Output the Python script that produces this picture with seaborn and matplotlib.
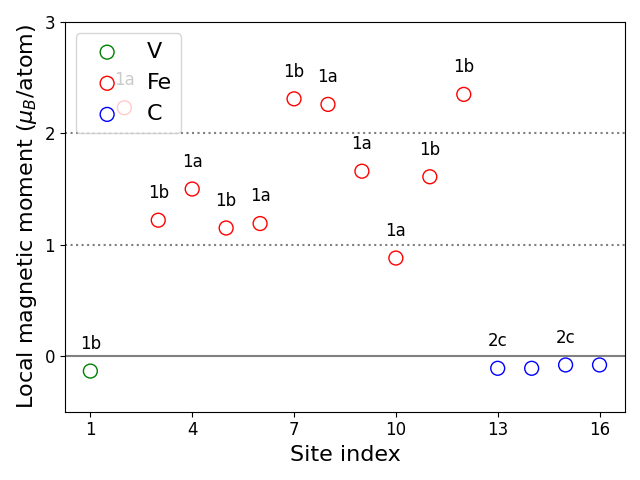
import numpy as np
import pandas as pd
import seaborn as sns
import matplotlib
matplotlib.use('Agg')
import matplotlib.pyplot as plt

# Data
SITES = list(range(1, 17))
ELEMENTS = ['V'] + ['Fe'] * 11 + ['C'] * 4
MOMENTS = [-0.135, 2.23, 1.22, 1.50, 1.15, 1.19, 2.31, 2.26,
           1.66, 0.88, 1.61, 2.35, -0.11, -0.11, -0.08, -0.08]
WYCKOFF = ['1b', '1a', '1b', '1a', '1b', '1a', '1b', '1a',
           '1a', '1a', '1b', '1b', '2c', '', '2c', '']
COLORS = {'V': 'green', 'Fe': 'red', 'C': 'blue'}

df = pd.DataFrame({'site': SITES, 'element': ELEMENTS,
                   'moment': MOMENTS, 'label': WYCKOFF})

fig, ax = plt.subplots(figsize=(6.4, 4.8), dpi=100)

for el in ['V', 'Fe', 'C']:
    sub = df[df['element'] == el]
    sns.scatterplot(data=sub, x='site', y='moment', ax=ax, s=100,
                    facecolor='none', edgecolor=COLORS[el], linewidth=1,
                    label=el)

for _, row in df.iterrows():
    if row['label']:
        ax.text(row['site'], row['moment'] + 0.2, row['label'],
                ha='center', fontsize=12)

ax.axhline(0, color='gray', lw=1.5)
ax.axhline(1, color='gray', ls=':', lw=1.5)
ax.axhline(2, color='gray', ls=':', lw=1.5)

ax.set_ylim(-0.5, 3)
ax.set_yticks([0, 1, 2, 3])
ax.set_xticks([1, 4, 7, 10, 13, 16])
ax.tick_params(labelsize=12)
ax.set_xlabel('Site index', fontsize=16)
ax.set_ylabel(r'Local magnetic moment ($\mu_B$/atom)', fontsize=16)
ax.legend(loc='upper left', fontsize=16)

plt.tight_layout()
plt.savefig('out.png')
